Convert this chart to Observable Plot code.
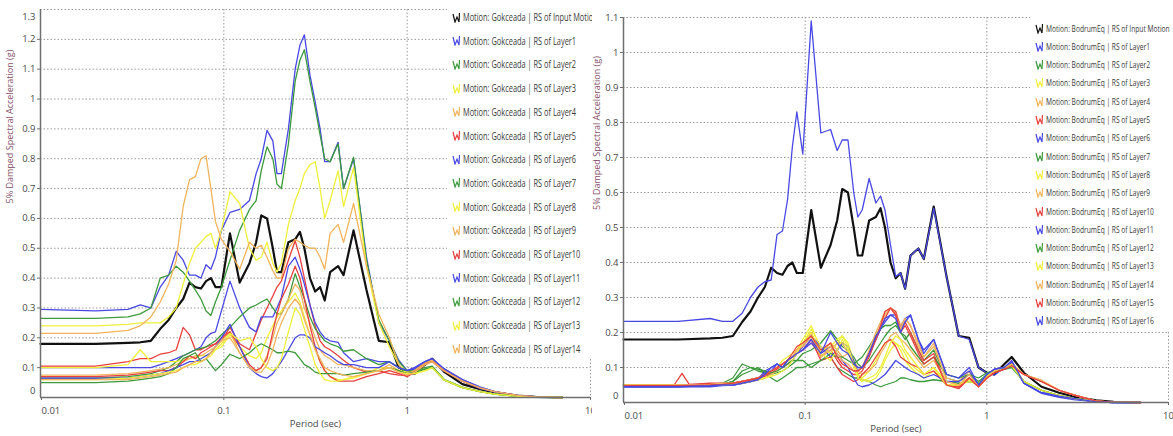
<!DOCTYPE html>
<html><head><meta charset="utf-8">
<script src="https://cdn.jsdelivr.net/npm/d3@7"></script>
<script src="https://cdn.jsdelivr.net/npm/@observablehq/plot@0.6"></script>
<style>
html,body{margin:0;padding:0;background:#fff}
body{width:1173px;height:436px;position:relative;overflow:hidden;font-family:'Open Sans',sans-serif}
.panel{position:absolute;top:0;height:436px}
.legend{position:absolute;background:#fff}
#legL{overflow:hidden}
.row{position:absolute;left:0;height:12px;display:flex;align-items:center;white-space:nowrap}
.row svg{flex:none}
.row span{display:inline-block;transform:scaleX(0.74);transform-origin:0 50%;color:#3a3a3a}
</style></head><body>
<div id="left" class="panel" style="left:0;width:592px"></div>
<div id="legL" class="legend" style="left:447px;top:5px;width:145px;height:352px"></div>
<div id="right" class="panel" style="left:592px;width:581px"></div>
<div id="legR" class="legend" style="left:1030px;top:16px;width:143px;height:314px"></div>
<script>
// ---------- shared period grid (sec) ----------
const periods = [0.01,0.02,0.03,0.035,0.04, 0.045,0.05,0.055,0.06,0.065, 0.07,0.075,0.08,0.085,0.09,
  0.097,0.108,0.122,0.138,0.15, 0.16,0.172,0.185,0.195,0.206, 0.225,0.245,0.26,0.275,0.295,
  0.315,0.335,0.355,0.38,0.42, 0.45,0.51,0.6,0.7,0.8, 0.9,1.0,1.1,1.25,1.37, 1.6,2.0,2.5,3.0,4.0, 5.0,7.0];
// BodrumEq Layer5 has a narrow spike near 0.021 s, so it is sampled a little finer there
const bodLayer5Periods = [0.01,0.019,0.021,0.023,0.03,0.035,0.04, 0.045,0.05,0.055,0.06,0.065, 0.07,0.075,0.08,0.085,0.09,
  0.097,0.108,0.122,0.138,0.15, 0.16,0.172,0.185,0.195,0.206, 0.225,0.245,0.26,0.275,0.295,
  0.315,0.335,0.355,0.38,0.42, 0.45,0.51,0.6,0.7,0.8, 0.9,1.0,1.1,1.25,1.37, 1.6,2.0,2.5,3.0,4.0, 5.0,7.0];

const xTicks = [0.01, 0.1, 1, 10];
const yTicksGok = [0,0.1,0.2,0.3,0.4,0.5,0.6,0.7,0.8,0.9,1,1.1,1.2,1.3];
const yTicksBod = [0,0.1,0.2,0.3,0.4,0.5,0.6,0.7,0.8,0.9,1,1.1];
const xLabel = "Period (sec)";
const yLabel = "5% Damped Spectral Acceleration (g)";
const layerColors = ["#4848e4","#3c9a3c","#f0f03a","#f2b45c","#e8403e"];
const inputColor = "#111111";

// ---------- input motion (same record in both panels) ----------
const inputMotion = [0.18,0.18,0.183,0.185,0.19, 0.23,0.26,0.30,0.33,0.385, 0.37,0.365,0.39,0.40,0.37,
  0.37,0.55,0.385,0.45,0.52, 0.61,0.60,0.50,0.42,0.42, 0.52,0.53,0.555,0.50,0.40,
  0.355,0.37,0.325,0.42,0.44, 0.41,0.56,0.36,0.19,0.185, 0.10,0.085,0.08,0.11,0.13, 0.085,0.045,0.028,0.017,0.006, 0.002,0];

// ---------- Gokceada layers ----------
const gokLayer1 = [0.295,0.29,0.295,0.31,0.30, 0.37,0.41,0.49,0.46,0.41, 0.41,0.40,0.445,0.43,0.47,
  0.56,0.62,0.63,0.66,0.75, 0.80,0.895,0.86,0.75,0.75, 0.90,1.10,1.18,1.215,1.08,
  0.99,0.90,0.79,0.79,0.855, 0.70,0.80,0.47,0.25,0.19, 0.125,0.09,0.095,0.115,0.125, 0.09,0.055,0.03,0.018,0.006, 0.002,0];
const gokLayer2 = [0.265,0.265,0.27,0.28,0.30, 0.40,0.41,0.44,0.42,0.39, 0.36,0.33,0.29,0.275,0.32,
  0.37,0.46,0.56,0.63,0.66, 0.76,0.84,0.80,0.715,0.70, 0.85,1.06,1.13,1.165,1.06,
  0.97,0.88,0.80,0.79,0.85, 0.70,0.805,0.46,0.26,0.19, 0.12,0.09,0.09,0.10,0.105, 0.06,0.035,0.02,0.012,0.004, 0.001,0];
const gokLayer3 = [0.24,0.24,0.245,0.25,0.25, 0.25,0.27,0.30,0.38,0.45, 0.50,0.52,0.54,0.55,0.50,
  0.56,0.69,0.65,0.50,0.46, 0.47,0.52,0.45,0.42,0.45, 0.58,0.66,0.70,0.75,0.78,
  0.79,0.70,0.60,0.66,0.76, 0.64,0.77,0.44,0.25,0.17, 0.11,0.085,0.085,0.095,0.10, 0.058,0.033,0.02,0.011,0.004, 0.001,0];
const gokLayer4 = [0.215,0.215,0.225,0.24,0.27, 0.32,0.38,0.46,0.64,0.73, 0.74,0.80,0.81,0.70,0.59,
  0.53,0.49,0.43,0.52,0.50, 0.51,0.47,0.425,0.40,0.40, 0.50,0.53,0.52,0.51,0.50,
  0.50,0.47,0.43,0.55,0.58, 0.52,0.65,0.44,0.28,0.20, 0.11,0.08,0.09,0.115,0.125, 0.09,0.058,0.032,0.02,0.007, 0.002,0];
const gokLayer5 = [0.105,0.105,0.12,0.13,0.13, 0.145,0.15,0.16,0.235,0.21, 0.16,0.16,0.17,0.175,0.18,
  0.19,0.235,0.18,0.16,0.215, 0.26,0.30,0.34,0.37,0.39, 0.46,0.525,0.47,0.40,0.31,
  0.24,0.19,0.17,0.16,0.14, 0.125,0.10,0.085,0.09,0.08, 0.075,0.075,0.09,0.115,0.125, 0.09,0.055,0.032,0.02,0.007, 0.002,0];
const gokLayer6 = [0.10,0.10,0.10,0.10,0.10, 0.11,0.12,0.13,0.14,0.15, 0.16,0.17,0.20,0.215,0.22,
  0.29,0.39,0.30,0.235,0.22, 0.27,0.27,0.27,0.30,0.335, 0.44,0.47,0.43,0.38,0.31,
  0.25,0.22,0.20,0.19,0.185, 0.15,0.12,0.13,0.12,0.12, 0.10,0.09,0.10,0.12,0.13, 0.095,0.06,0.035,0.02,0.007, 0.002,0];
const gokLayer7 = [0.065,0.065,0.07,0.075,0.08, 0.09,0.10,0.12,0.14,0.15, 0.16,0.165,0.17,0.18,0.19,
  0.21,0.235,0.27,0.30,0.31, 0.32,0.33,0.30,0.28,0.28, 0.33,0.415,0.37,0.33,0.27,
  0.23,0.21,0.19,0.18,0.17, 0.155,0.16,0.13,0.11,0.12, 0.10,0.085,0.085,0.095,0.10, 0.058,0.033,0.02,0.011,0.004, 0.001,0];
const gokLayer8 = [0.10,0.10,0.11,0.16,0.12, 0.12,0.12,0.12,0.125,0.13, 0.135,0.14,0.14,0.15,0.16,
  0.17,0.21,0.17,0.14,0.13, 0.15,0.20,0.24,0.27,0.29, 0.32,0.35,0.32,0.27,0.21,
  0.16,0.12,0.09,0.07,0.06, 0.06,0.065,0.08,0.10,0.10, 0.09,0.085,0.08,0.09,0.10, 0.058,0.033,0.02,0.011,0.004, 0.001,0];
const gokLayer9 = [0.075,0.075,0.08,0.085,0.09, 0.095,0.10,0.11,0.12,0.13, 0.14,0.14,0.15,0.16,0.17,
  0.19,0.22,0.15,0.10,0.09, 0.10,0.14,0.20,0.25,0.28, 0.33,0.38,0.36,0.30,0.25,
  0.20,0.16,0.14,0.13,0.11, 0.11,0.10,0.09,0.09,0.11, 0.09,0.08,0.09,0.115,0.125, 0.09,0.058,0.032,0.02,0.007, 0.002,0];
const gokLayer10 = [0.07,0.07,0.075,0.08,0.085, 0.09,0.09,0.10,0.12,0.14, 0.13,0.15,0.16,0.17,0.18,
  0.20,0.22,0.17,0.11,0.09, 0.10,0.13,0.22,0.28,0.33, 0.38,0.44,0.40,0.33,0.24,
  0.17,0.12,0.09,0.07,0.055, 0.055,0.055,0.07,0.08,0.09, 0.08,0.07,0.085,0.11,0.12, 0.088,0.055,0.032,0.02,0.007, 0.002,0];
const gokLayer11 = [0.065,0.065,0.065,0.07,0.075, 0.08,0.09,0.10,0.11,0.12, 0.12,0.13,0.14,0.15,0.17,
  0.20,0.245,0.17,0.10,0.08, 0.07,0.065,0.08,0.10,0.12, 0.16,0.20,0.21,0.21,0.20,
  0.17,0.16,0.15,0.14,0.12, 0.11,0.11,0.10,0.10,0.12, 0.10,0.09,0.10,0.12,0.13, 0.095,0.06,0.035,0.02,0.007, 0.002,0];
const gokLayer12 = [0.05,0.05,0.055,0.06,0.065, 0.07,0.08,0.10,0.13,0.14, 0.15,0.12,0.13,0.11,0.09,
  0.11,0.145,0.13,0.15,0.17, 0.18,0.17,0.16,0.15,0.15, 0.155,0.15,0.13,0.11,0.10,
  0.085,0.08,0.08,0.08,0.08, 0.075,0.08,0.085,0.09,0.10, 0.09,0.08,0.085,0.095,0.10, 0.058,0.033,0.02,0.011,0.004, 0.001,0];
const gokLayer13 = [0.06,0.06,0.065,0.07,0.075, 0.08,0.085,0.09,0.10,0.11, 0.11,0.12,0.13,0.14,0.16,
  0.18,0.215,0.19,0.20,0.17, 0.13,0.10,0.09,0.10,0.13, 0.22,0.30,0.28,0.23,0.17,
  0.11,0.08,0.06,0.055,0.055, 0.06,0.07,0.08,0.09,0.10, 0.085,0.08,0.08,0.09,0.10, 0.058,0.033,0.02,0.011,0.004, 0.001,0];
const gokLayer14 = [0.06,0.06,0.06,0.065,0.07, 0.075,0.08,0.085,0.10,0.11, 0.12,0.12,0.13,0.15,0.17,
  0.19,0.20,0.15,0.10,0.085, 0.085,0.11,0.16,0.21,0.25, 0.30,0.33,0.31,0.26,0.21,
  0.16,0.13,0.10,0.09,0.08, 0.075,0.07,0.08,0.09,0.10, 0.085,0.075,0.085,0.11,0.12, 0.088,0.055,0.032,0.02,0.007, 0.002,0];

// ---------- BodrumEq layers ----------
const bodLayer1 = [0.232,0.232,0.24,0.232,0.232, 0.255,0.30,0.33,0.345,0.35, 0.48,0.49,0.58,0.73,0.83,
  0.71,1.09,0.77,0.78,0.72, 0.75,0.75,0.60,0.53,0.55, 0.64,0.57,0.59,0.55,0.45,
  0.36,0.37,0.325,0.42,0.44, 0.41,0.555,0.36,0.19,0.18, 0.10,0.085,0.078,0.10,0.117, 0.055,0.026,0.015,0.008,0.002, 0,0];
const bodLayer2 = [0.05,0.05,0.052,0.055,0.07, 0.11,0.10,0.09,0.085,0.08, 0.085,0.09,0.10,0.11,0.12,
  0.14,0.15,0.17,0.205,0.18, 0.16,0.15,0.13,0.11,0.10, 0.12,0.15,0.17,0.19,0.21,
  0.22,0.20,0.18,0.20,0.15, 0.12,0.15,0.07,0.06,0.08, 0.06,0.08,0.09,0.10,0.105, 0.06,0.035,0.02,0.012,0.003, 0.001,0];
const bodLayer3 = [0.05,0.05,0.05,0.052,0.055, 0.06,0.065,0.07,0.08,0.09, 0.10,0.12,0.13,0.14,0.15,
  0.18,0.22,0.15,0.16,0.18, 0.19,0.17,0.12,0.08,0.07, 0.09,0.12,0.15,0.17,0.18,
  0.17,0.15,0.12,0.10,0.08, 0.07,0.09,0.05,0.05,0.07, 0.05,0.08,0.09,0.10,0.105, 0.06,0.035,0.02,0.012,0.003, 0.001,0];
const bodLayer4 = [0.05,0.05,0.05,0.052,0.055, 0.06,0.065,0.07,0.08,0.09, 0.10,0.11,0.12,0.13,0.14,
  0.16,0.19,0.14,0.17,0.15, 0.13,0.14,0.12,0.10,0.10, 0.14,0.19,0.22,0.25,0.27,
  0.26,0.22,0.24,0.22,0.17, 0.13,0.16,0.07,0.06,0.09, 0.05,0.07,0.09,0.10,0.11, 0.08,0.063,0.035,0.022,0.004, 0.001,0];
const bodLayer5 = [0.05,0.05,0.083,0.052,0.055,0.055,0.055, 0.06,0.065,0.07,0.08,0.09, 0.10,0.11,0.12,0.13,0.15,
  0.17,0.20,0.13,0.15,0.12, 0.10,0.09,0.08,0.08,0.09, 0.13,0.18,0.21,0.24,0.27,
  0.26,0.21,0.23,0.20,0.15, 0.12,0.14,0.05,0.04,0.07, 0.045,0.07,0.085,0.095,0.105, 0.08,0.06,0.035,0.022,0.004, 0.001,0];
const bodLayer6 = [0.045,0.045,0.048,0.05,0.05, 0.055,0.06,0.07,0.085,0.09, 0.11,0.10,0.12,0.13,0.14,
  0.16,0.19,0.16,0.13,0.15, 0.17,0.16,0.12,0.09,0.10, 0.14,0.18,0.21,0.23,0.25,
  0.25,0.21,0.24,0.25,0.18, 0.15,0.18,0.08,0.07,0.09, 0.05,0.08,0.095,0.10,0.115, 0.055,0.028,0.018,0.012,0.002, 0,0];
const bodLayer7 = [0.05,0.05,0.05,0.052,0.06, 0.08,0.09,0.10,0.085,0.07, 0.06,0.07,0.08,0.09,0.10,
  0.10,0.11,0.12,0.13,0.10, 0.09,0.08,0.07,0.07,0.065, 0.06,0.05,0.045,0.05,0.055,
  0.06,0.07,0.07,0.065,0.06, 0.06,0.065,0.06,0.055,0.06, 0.055,0.075,0.085,0.095,0.10, 0.06,0.035,0.02,0.012,0.003, 0.001,0];
const bodLayer8 = [0.048,0.048,0.05,0.05,0.052, 0.055,0.06,0.065,0.07,0.08, 0.09,0.10,0.11,0.13,0.15,
  0.17,0.21,0.16,0.14,0.17, 0.19,0.16,0.11,0.08,0.065, 0.06,0.07,0.09,0.12,0.15,
  0.17,0.16,0.14,0.11,0.09, 0.08,0.10,0.06,0.05,0.06, 0.05,0.075,0.09,0.10,0.105, 0.06,0.035,0.02,0.012,0.003, 0.001,0];
const bodLayer9 = [0.05,0.05,0.05,0.05,0.055, 0.06,0.06,0.065,0.07,0.08, 0.09,0.10,0.11,0.12,0.14,
  0.15,0.17,0.13,0.15,0.17, 0.17,0.14,0.11,0.09,0.08, 0.09,0.11,0.14,0.16,0.19,
  0.20,0.18,0.17,0.15,0.12, 0.10,0.12,0.06,0.05,0.07, 0.05,0.075,0.09,0.10,0.11, 0.08,0.063,0.035,0.022,0.004, 0.001,0];
const bodLayer10 = [0.05,0.05,0.05,0.052,0.055, 0.06,0.065,0.07,0.075,0.085, 0.095,0.11,0.12,0.13,0.14,
  0.15,0.18,0.12,0.13,0.10, 0.08,0.07,0.06,0.065,0.08, 0.10,0.13,0.15,0.17,0.18,
  0.16,0.13,0.12,0.11,0.10, 0.08,0.09,0.05,0.045,0.07, 0.045,0.07,0.085,0.095,0.105, 0.08,0.06,0.035,0.022,0.004, 0.001,0];
const bodLayer11 = [0.045,0.045,0.045,0.048,0.05, 0.055,0.06,0.065,0.09,0.10, 0.11,0.10,0.11,0.12,0.14,
  0.15,0.17,0.14,0.16,0.14, 0.12,0.10,0.07,0.05,0.045, 0.05,0.06,0.07,0.08,0.10,
  0.12,0.11,0.10,0.09,0.08, 0.07,0.08,0.06,0.06,0.08, 0.05,0.08,0.095,0.10,0.115, 0.055,0.028,0.018,0.012,0.002, 0,0];
const bodLayer12 = [0.05,0.05,0.05,0.052,0.06, 0.09,0.10,0.095,0.09,0.085, 0.09,0.10,0.11,0.12,0.12,
  0.12,0.10,0.12,0.14,0.13, 0.13,0.12,0.11,0.12,0.13, 0.16,0.19,0.21,0.22,0.22,
  0.23,0.20,0.19,0.16,0.13, 0.11,0.13,0.08,0.07,0.08, 0.07,0.085,0.09,0.10,0.105, 0.06,0.035,0.02,0.012,0.003, 0.001,0];
const bodLayer13 = [0.05,0.05,0.05,0.05,0.052, 0.055,0.06,0.065,0.07,0.075, 0.08,0.09,0.10,0.12,0.14,
  0.17,0.20,0.14,0.12,0.15, 0.18,0.15,0.10,0.07,0.06, 0.07,0.08,0.10,0.13,0.17,
  0.19,0.18,0.15,0.13,0.10, 0.08,0.10,0.05,0.05,0.065, 0.05,0.075,0.09,0.10,0.105, 0.06,0.035,0.02,0.012,0.003, 0.001,0];
const bodLayer14 = [0.05,0.05,0.052,0.055,0.055, 0.06,0.065,0.07,0.08,0.09, 0.10,0.11,0.12,0.13,0.15,
  0.16,0.19,0.13,0.16,0.14, 0.12,0.11,0.09,0.09,0.10, 0.15,0.20,0.23,0.26,0.27,
  0.25,0.21,0.24,0.22,0.16, 0.13,0.17,0.06,0.05,0.08, 0.045,0.07,0.09,0.10,0.11, 0.08,0.063,0.035,0.022,0.004, 0.001,0];
const bodLayer15 = [0.048,0.048,0.05,0.052,0.055, 0.06,0.065,0.07,0.08,0.09, 0.10,0.11,0.12,0.14,0.16,
  0.17,0.19,0.15,0.17,0.13, 0.11,0.10,0.09,0.09,0.10, 0.14,0.18,0.22,0.26,0.27,
  0.25,0.20,0.22,0.19,0.14, 0.11,0.13,0.05,0.04,0.07, 0.045,0.07,0.085,0.095,0.105, 0.08,0.06,0.035,0.022,0.004, 0.001,0];
const bodLayer16 = [0.045,0.045,0.048,0.05,0.05, 0.055,0.06,0.065,0.08,0.10, 0.11,0.10,0.12,0.13,0.14,
  0.15,0.18,0.14,0.20,0.17, 0.15,0.14,0.11,0.10,0.10, 0.14,0.19,0.21,0.24,0.25,
  0.24,0.20,0.23,0.25,0.18, 0.14,0.18,0.08,0.07,0.10, 0.05,0.08,0.095,0.10,0.12, 0.055,0.028,0.018,0.012,0.002, 0,0];

const gokLayers = [gokLayer1,gokLayer2,gokLayer3,gokLayer4,gokLayer5,gokLayer6,gokLayer7,gokLayer8,gokLayer9,gokLayer10,gokLayer11,gokLayer12,gokLayer13,gokLayer14];
const bodLayers = [bodLayer1,bodLayer2,bodLayer3,bodLayer4,bodLayer5,bodLayer6,bodLayer7,bodLayer8,bodLayer9,bodLayer10,bodLayer11,bodLayer12,bodLayer13,bodLayer14,bodLayer15,bodLayer16];
const bodLayerPeriods = bodLayers.map(v => v === bodLayer5 ? bodLayer5Periods : periods);

function buildSeries(motion, layers, layerPeriods) {
  const s = [{name: `Motion: ${motion} | RS of Input Motion`, values: inputMotion, periods, color: inputColor, width: 2.2}];
  layers.forEach((v, i) => s.push({name: `Motion: ${motion} | RS of Layer${i + 1}`, values: v,
    periods: layerPeriods ? layerPeriods[i] : periods, color: layerColors[i % 5], width: 1.3}));
  s.forEach(d => { if (d.values.length !== d.periods.length) throw new Error(d.name + " length " + d.values.length); });
  return s;
}

const fmt = d => d === 0 ? "0" : String(+d.toFixed(2));

function panel({width, marginLeft, marginRight, marginTop, marginBottom, yTicks, series, shiftTop, yLabelDx}) {
  const yMax = yTicks[yTicks.length - 1];
  const inner = yTicks.slice(1, shiftTop ? yTicks.length - 1 : yTicks.length);
  const axisCol = "#6f6f6f";
  return Plot.plot({
    width, height: 436, marginLeft, marginRight, marginTop, marginBottom,
    x: {type: "log", domain: [0.01, 10]},
    y: {domain: [0, yMax]},
    style: {background: "white", fontFamily: "'Open Sans', sans-serif", fontSize: "9.5px", color: "#4a4a4a", overflow: "visible"},
    marks: [
      Plot.gridY(yTicks, {stroke: "#9a9a9a", strokeOpacity: 1, strokeDasharray: "1.5,2"}),
      Plot.gridX(xTicks.slice(1), {stroke: "#9a9a9a", strokeOpacity: 1, strokeDasharray: "1.5,2"}),
      ...series.map(s => Plot.line(s.values, {x: s.periods, y: s.values, stroke: s.color, strokeWidth: s.width, strokeLinejoin: "round"})),
      Plot.ruleY([0], {stroke: axisCol, strokeWidth: 1.5}),
      Plot.ruleX([0.01], {stroke: axisCol, strokeWidth: 1.5}),
      Plot.axisX(xTicks.slice(1), {tickSize: 3, tickPadding: 7, tickFormat: fmt, stroke: axisCol}),
      Plot.axisX([xTicks[0]], {tickSize: 3, tickPadding: 7, tickFormat: fmt, textAnchor: "start", dx: 1, stroke: axisCol}),
      Plot.axisY(inner, {tickSize: 3, tickPadding: 2, tickFormat: fmt, stroke: axisCol}),
      Plot.axisY([0], {tickSize: 0, tickPadding: 5, dy: -7, tickFormat: fmt}),
      shiftTop ? Plot.axisY([yMax], {tickSize: 0, tickPadding: 5, dy: 7, tickFormat: fmt}) : null,
      Plot.text([xLabel], {text: d => d, frameAnchor: "bottom", dy: 29, fill: "#4a4a4a", fontSize: 9.5}),
      Plot.text([yLabel], {text: d => d, frameAnchor: "left", rotate: -90, dx: yLabelDx, fill: "#85506a", fontSize: 9})
    ]
  });
}

function legend(el, series, {y0, step, fontSize, gap}) {
  const top = parseFloat(el.style.top);
  series.forEach((s, i) => {
    const row = document.createElement("div");
    row.className = "row";
    row.style.top = (y0 + step * i - 6 - top) + "px";
    row.style.left = "5px";
    const svg = d3.create("svg").attr("width", 8).attr("height", 11);
    svg.append("polyline").attr("points", "1,2 3,10 5,5 7,10 7.5,1")
      .attr("fill", "none").attr("stroke", s.color).attr("stroke-width", 1.2);
    row.appendChild(svg.node());
    const sp = document.createElement("span");
    sp.textContent = s.name;
    sp.style.fontSize = fontSize + "px";
    sp.style.marginLeft = gap + "px";
    row.appendChild(sp);
    el.appendChild(row);
  });
}

const gokSeries = buildSeries("Gokceada", gokLayers);
const bodSeries = buildSeries("BodrumEq", bodLayers, bodLayerPeriods);

document.getElementById("left").appendChild(panel({
  width: 592, marginLeft: 40, marginRight: 2, marginTop: 9, marginBottom: 39,
  yTicks: yTicksGok, series: gokSeries, shiftTop: true, yLabelDx: -30
}));
document.getElementById("right").appendChild(panel({
  width: 581, marginLeft: 31, marginRight: 5, marginTop: 17, marginBottom: 34,
  yTicks: yTicksBod, series: bodSeries, shiftTop: false, yLabelDx: -26
}));
legend(document.getElementById("legL"), gokSeries, {y0: 17, step: 23.7, fontSize: 10, gap: 3});
legend(document.getElementById("legR"), bodSeries, {y0: 28, step: 18.3, fontSize: 9, gap: 2.5});
</script>
</body></html>
